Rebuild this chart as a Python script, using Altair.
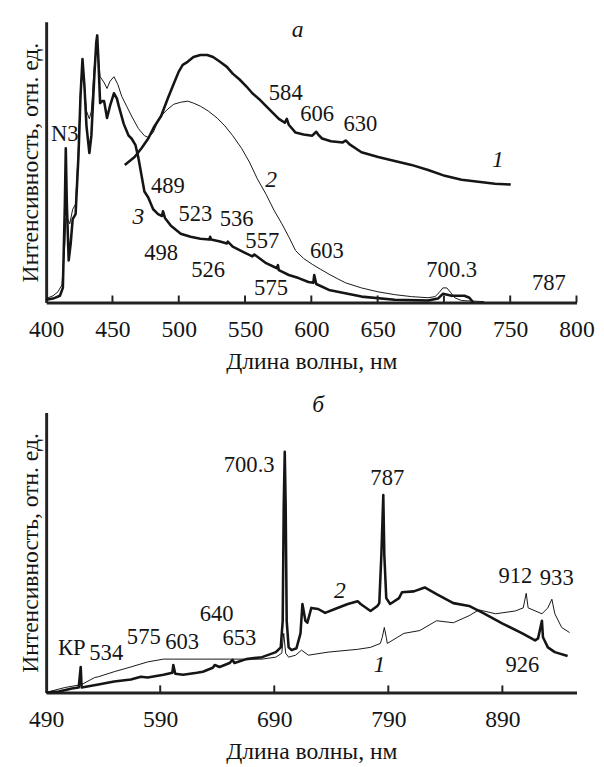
import altair as alt
import pandas as pd

FONT = "Liberation Serif"
INK = "#151515"

# ---------------- Panel a (400-800 nm) ----------------
A_TICKS = [450, 500, 550, 600, 650, 700, 750, 800]
A_LABELS = [400, 450, 500, 550, 600, 650, 700, 750, 800]

# curve 3 (thick)
A3 = [(400.0, 1.0), (405.2, 1.4), (410.4, 2.4), (412.6, 5.2), (414.1, 35.0), (414.8, 54.9), (415.6, 35.0),
      (417.0, 15.0), (418.5, 21.0), (420.0, 29.7), (422.2, 31.5), (424.4, 52.5), (425.9, 73.4), (427.4, 86.7),
      (428.9, 76.9), (430.4, 62.9), (432.6, 53.2), (434.1, 59.4), (436.3, 80.4), (437.8, 92.7), (438.5, 95.1),
      (439.3, 87.4), (440.7, 71.0), (442.2, 71.7), (443.7, 71.7), (445.9, 65.7), (448.1, 69.9), (451.1, 74.5),
      (453.3, 72.7), (454.8, 69.9), (458.5, 63.6), (462.2, 59.4), (464.4, 58.4), (467.4, 56.0), (469.6, 51.4),
      (474.1, 39.5), (477.0, 37.4), (480.7, 33.2), (484.4, 31.5), (487.4, 30.8), (488.1, 32.5), (489.6, 30.1),
      (494.1, 27.3), (501.5, 24.5), (508.9, 23.4), (516.3, 22.7), (523.0, 22.4), (523.7, 23.4), (524.4, 22.4),
      (531.1, 21.7), (536.3, 21.0), (537.0, 21.7), (540.7, 19.9), (549.6, 17.8), (555.5, 16.4), (557.0, 17.1),
      (565.9, 14.0), (574.1, 12.2), (574.8, 13.3), (575.5, 11.5), (583.0, 9.8), (590.4, 8.7), (597.8, 7.3),
      (601.5, 7.0), (602.2, 9.8), (603.7, 6.6), (613.3, 4.5), (627.4, 3.1), (637.8, 2.1), (662.9, 1.0),
      (688.1, 0.7), (695.5, 1.4), (699.2, 3.1), (705.9, 2.4), (715.5, 2.4), (719.2, 1.7), (722.2, 0.0)]

# curve 2 (thin)
A2 = [(400.0, 1.4), (405.2, 2.4), (408.9, 3.8), (411.9, 6.3), (414.1, 21.0), (414.8, 30.0), (416.3, 29.7),
      (417.8, 28.0), (420.0, 33.2), (422.2, 35.0), (424.4, 55.9), (425.9, 75.2), (427.4, 85.7), (428.9, 76.9),
      (430.4, 68.2), (432.6, 65.4), (434.1, 68.2), (436.3, 83.9), (438.5, 94.4), (439.3, 87.4), (440.7, 80.4),
      (443.7, 78.3), (445.9, 76.2), (448.1, 78.7), (451.1, 80.4), (454.1, 77.6), (457.0, 73.4), (460.7, 69.9),
      (464.4, 66.4), (469.6, 61.9), (474.1, 59.4), (477.0, 58.8), (480.7, 60.5), (484.4, 64.7), (488.1, 67.1),
      (491.8, 68.9), (496.3, 70.6), (501.5, 71.3), (506.7, 71.7), (511.1, 71.0), (516.3, 69.9), (522.2, 68.2),
      (528.9, 65.7), (534.8, 62.9), (540.7, 59.4), (547.4, 54.9), (553.3, 50.0), (559.2, 44.1), (565.9, 38.5),
      (571.8, 32.9), (577.8, 28.0), (583.0, 23.4), (588.1, 18.5), (594.1, 15.7), (600.7, 13.6), (606.7, 11.9),
      (613.3, 10.1), (620.0, 8.4), (625.9, 7.0), (637.8, 5.2), (650.4, 3.8), (662.9, 2.8), (675.5, 2.1),
      (688.1, 1.7), (693.3, 2.1), (696.3, 3.5), (699.2, 5.2), (702.2, 5.2), (705.2, 3.5), (708.1, 1.7),
      (713.3, 0.7), (730.4, 0.3)]

# curve 1 (thick)
A1 = [(459.3, 49.0), (463.0, 50.4), (466.7, 51.8), (471.9, 54.9), (477.0, 58.4), (481.5, 62.6), (486.7, 66.4),
      (491.8, 72.7), (496.3, 78.0), (500.0, 82.2), (503.0, 84.6), (506.7, 85.7), (511.1, 87.4), (516.3, 88.1),
      (521.5, 88.1), (525.9, 87.4), (531.1, 85.7), (536.3, 83.9), (540.7, 81.5), (545.9, 79.4), (551.1, 76.9),
      (555.5, 74.5), (560.7, 72.4), (565.9, 69.9), (570.4, 67.8), (575.5, 65.4), (580.0, 64.0), (581.5, 65.4),
      (583.0, 63.3), (588.1, 60.5), (594.1, 59.8), (600.7, 59.4), (603.7, 60.8), (605.2, 59.8), (608.1, 58.4),
      (614.8, 57.4), (623.7, 57.0), (625.9, 57.7), (628.9, 56.3), (637.8, 53.5), (650.4, 51.8), (662.9, 50.4),
      (675.5, 49.0), (688.1, 47.2), (700.7, 45.1), (713.3, 43.7), (725.9, 43.0), (738.5, 42.3), (750.4, 42.0)]

A_TEXT = [("N3", 414.1, 60.1), ("489", 491.8, 41.6), ("523", 512.6, 31.5), ("536", 543.7, 29.7),
          ("557", 563.0, 22.0), ("498", 486.7, 17.5), ("526", 522.2, 11.5), ("575", 569.6, 5.2),
          ("584", 580.7, 74.5), ("606", 604.4, 67.1), ("630", 637.0, 63.6), ("603", 611.8, 18.2),
          ("700.3", 705.9, 11.5), ("787", 779.2, 7.0)]
A_ITALIC = [("3", 469.6, 30.4), ("2", 569.6, 43.7), ("1", 740.7, 50.7), ("а", 589.6, 96.9)]

# ---------------- Panel б (490-955 nm) ----------------
B_TICKS = [590, 690, 790, 890]
B_LABELS = [490, 590, 690, 790, 890]

# curve 2 (thick)
B2 = [(490.0, 0.0), (501.2, 0.35), (512.5, 1.4), (518.5, 1.75), (520.3, 9.1), (521.1, 1.75), (535.8, 2.8),
      (549.6, 3.9), (564.3, 4.6), (573.0, 5.6), (579.0, 5.3), (592.9, 6.3), (600.6, 7.0), (601.5, 9.8),
      (603.2, 6.7), (610.1, 6.3), (622.2, 7.0), (627.4, 7.4), (636.1, 8.8), (637.8, 9.8), (642.1, 9.1),
      (650.8, 10.5), (653.4, 11.6), (655.1, 10.5), (665.5, 11.9), (679.3, 12.6), (691.4, 14.4), (695.7, 16.1),
      (697.4, 25.6), (698.3, 66.7), (699.2, 86.0), (700.0, 66.7), (700.9, 25.6), (702.6, 16.1), (705.2, 15.1),
      (709.5, 15.8), (713.0, 21.1), (714.7, 31.6), (717.3, 25.6), (719.0, 24.9), (722.5, 30.2), (728.5, 29.8),
      (734.6, 28.4), (743.2, 29.8), (754.5, 31.6), (763.1, 32.6), (765.7, 31.6), (774.4, 29.1), (780.4, 30.9),
      (782.1, 31.9), (783.9, 49.1), (785.6, 70.5), (786.5, 49.1), (788.2, 33.7), (791.6, 31.6), (799.4, 33.7),
      (802.0, 35.8), (812.4, 36.1), (821.9, 37.5), (832.3, 35.1), (847.0, 31.9), (860.8, 30.9), (872.9, 28.4),
      (890.2, 24.6), (907.5, 21.1), (918.7, 18.6), (921.3, 19.3), (924.7, 25.6), (925.6, 19.7), (929.9, 16.1),
      (936.0, 14.4), (947.2, 13.0)]

# curve 1 (thin)
B1 = [(490.0, 0.0), (506.4, 1.75), (521.1, 2.8), (532.4, 5.3), (535.8, 5.6), (549.6, 7.4), (564.3, 9.1),
      (579.0, 10.9), (592.9, 11.9), (601.5, 11.9), (622.2, 11.9), (650.8, 11.9), (679.3, 11.9), (691.4, 12.6),
      (696.6, 14.0), (698.3, 21.1), (700.0, 14.0), (702.6, 12.6), (708.7, 13.3), (713.9, 15.1), (719.9, 13.3),
      (737.2, 14.4), (763.1, 15.4), (774.4, 16.1), (783.0, 17.5), (784.7, 19.7), (786.5, 23.2), (788.2, 19.7),
      (789.1, 17.5), (803.7, 21.1), (817.6, 22.1), (832.3, 25.6), (847.0, 24.9), (860.8, 27.4), (869.4, 29.5),
      (884.1, 28.1), (901.4, 29.1), (908.3, 30.2), (910.9, 35.4), (912.6, 30.2), (924.7, 28.1), (929.9, 30.2),
      (933.4, 33.3), (936.0, 28.1), (942.0, 23.2), (948.9, 21.4)]

B_TEXT = [("700.3", 668.0, 81.1), ("787", 789.1, 76.5), ("912", 901.4, 41.4), ("933", 937.7, 40.7),
          ("926", 907.5, 9.8), ("КР", 512.5, 15.8), ("534", 542.7, 14.0), ("575", 575.6, 19.7),
          ("603", 609.3, 17.9), ("640", 639.5, 28.1), ("653", 659.4, 19.3)]
B_ITALIC = [("1", 782.1, 9.8), ("2", 747.6, 36.1), ("б", 728.5, 102.5)]


def curve_df(pairs):
    return pd.DataFrame({"nm": [p[0] for p in pairs], "I": [p[1] for p in pairs]})


def text_df(items):
    return pd.DataFrame({"t": [i[0] for i in items], "nm": [i[1] for i in items], "I": [i[2] for i in items]})


def panel(curves, ticks, labels, texts, italics, domain, h):
    xs = alt.Scale(domain=domain, nice=False, zero=False)
    ys = alt.Scale(domain=[0, 100], nice=False)
    xax = alt.Axis(values=labels, title="Длина волны, нм", labelPadding=16, titlePadding=8,
                   format="d", labelFlush=False, labelOverlap=False)
    yax = alt.Axis(title="Интенсивность, отн. ед.", labels=False, ticks=False, titlePadding=4)
    layers = []
    for pairs, w in curves:
        layers.append(
            alt.Chart(curve_df(pairs)).mark_line(color=INK, strokeWidth=w, strokeJoin="round")
            .encode(x=alt.X("nm:Q", scale=xs, axis=xax), y=alt.Y("I:Q", scale=ys, axis=yax), order="nm:Q")
        )
    tdf = pd.DataFrame({"nm": ticks, "y0": [0] * len(ticks), "y1": [2.5] * len(ticks)})
    layers.append(
        alt.Chart(tdf).mark_rule(color="#222222", strokeWidth=2)
        .encode(x=alt.X("nm:Q", scale=xs), y=alt.Y("y0:Q", scale=ys), y2="y1:Q")
    )
    layers.append(
        alt.Chart(text_df(texts)).mark_text(font=FONT, fontSize=23, color=INK, baseline="middle", align="center")
        .encode(x=alt.X("nm:Q", scale=xs), y=alt.Y("I:Q", scale=ys), text="t:N")
    )
    layers.append(
        alt.Chart(text_df(italics)).mark_text(font=FONT, fontSize=24, color=INK, baseline="middle",
                                               align="center", fontStyle="italic")
        .encode(x=alt.X("nm:Q", scale=xs), y=alt.Y("I:Q", scale=ys), text="t:N")
    )
    return alt.layer(*layers).properties(width=540, height=h)


top = panel([(A2, 1.0), (A3, 2.6), (A1, 2.6)], A_TICKS, A_LABELS, A_TEXT, A_ITALIC, [400, 800], 286)
bottom = panel([(B1, 1.0), (B2, 2.6)], B_TICKS, B_LABELS, B_TEXT, B_ITALIC, [490, 955], 285)

chart = (
    alt.vconcat(top, bottom, spacing=112, bounds="flush")
    .properties(padding={"left": 18, "top": 11, "right": 10, "bottom": 2}, background="white")
    .configure_view(stroke=None)
    .configure_axis(
        labelFont=FONT, labelFontSize=24, labelColor=INK,
        titleFont=FONT, titleFontSize=24, titleFontWeight="normal", titleColor=INK,
        domainColor="#222222", domainWidth=3, grid=False, ticks=False,
    )
)

chart.save("out.html", embed_options={"renderer": "svg", "actions": False})
